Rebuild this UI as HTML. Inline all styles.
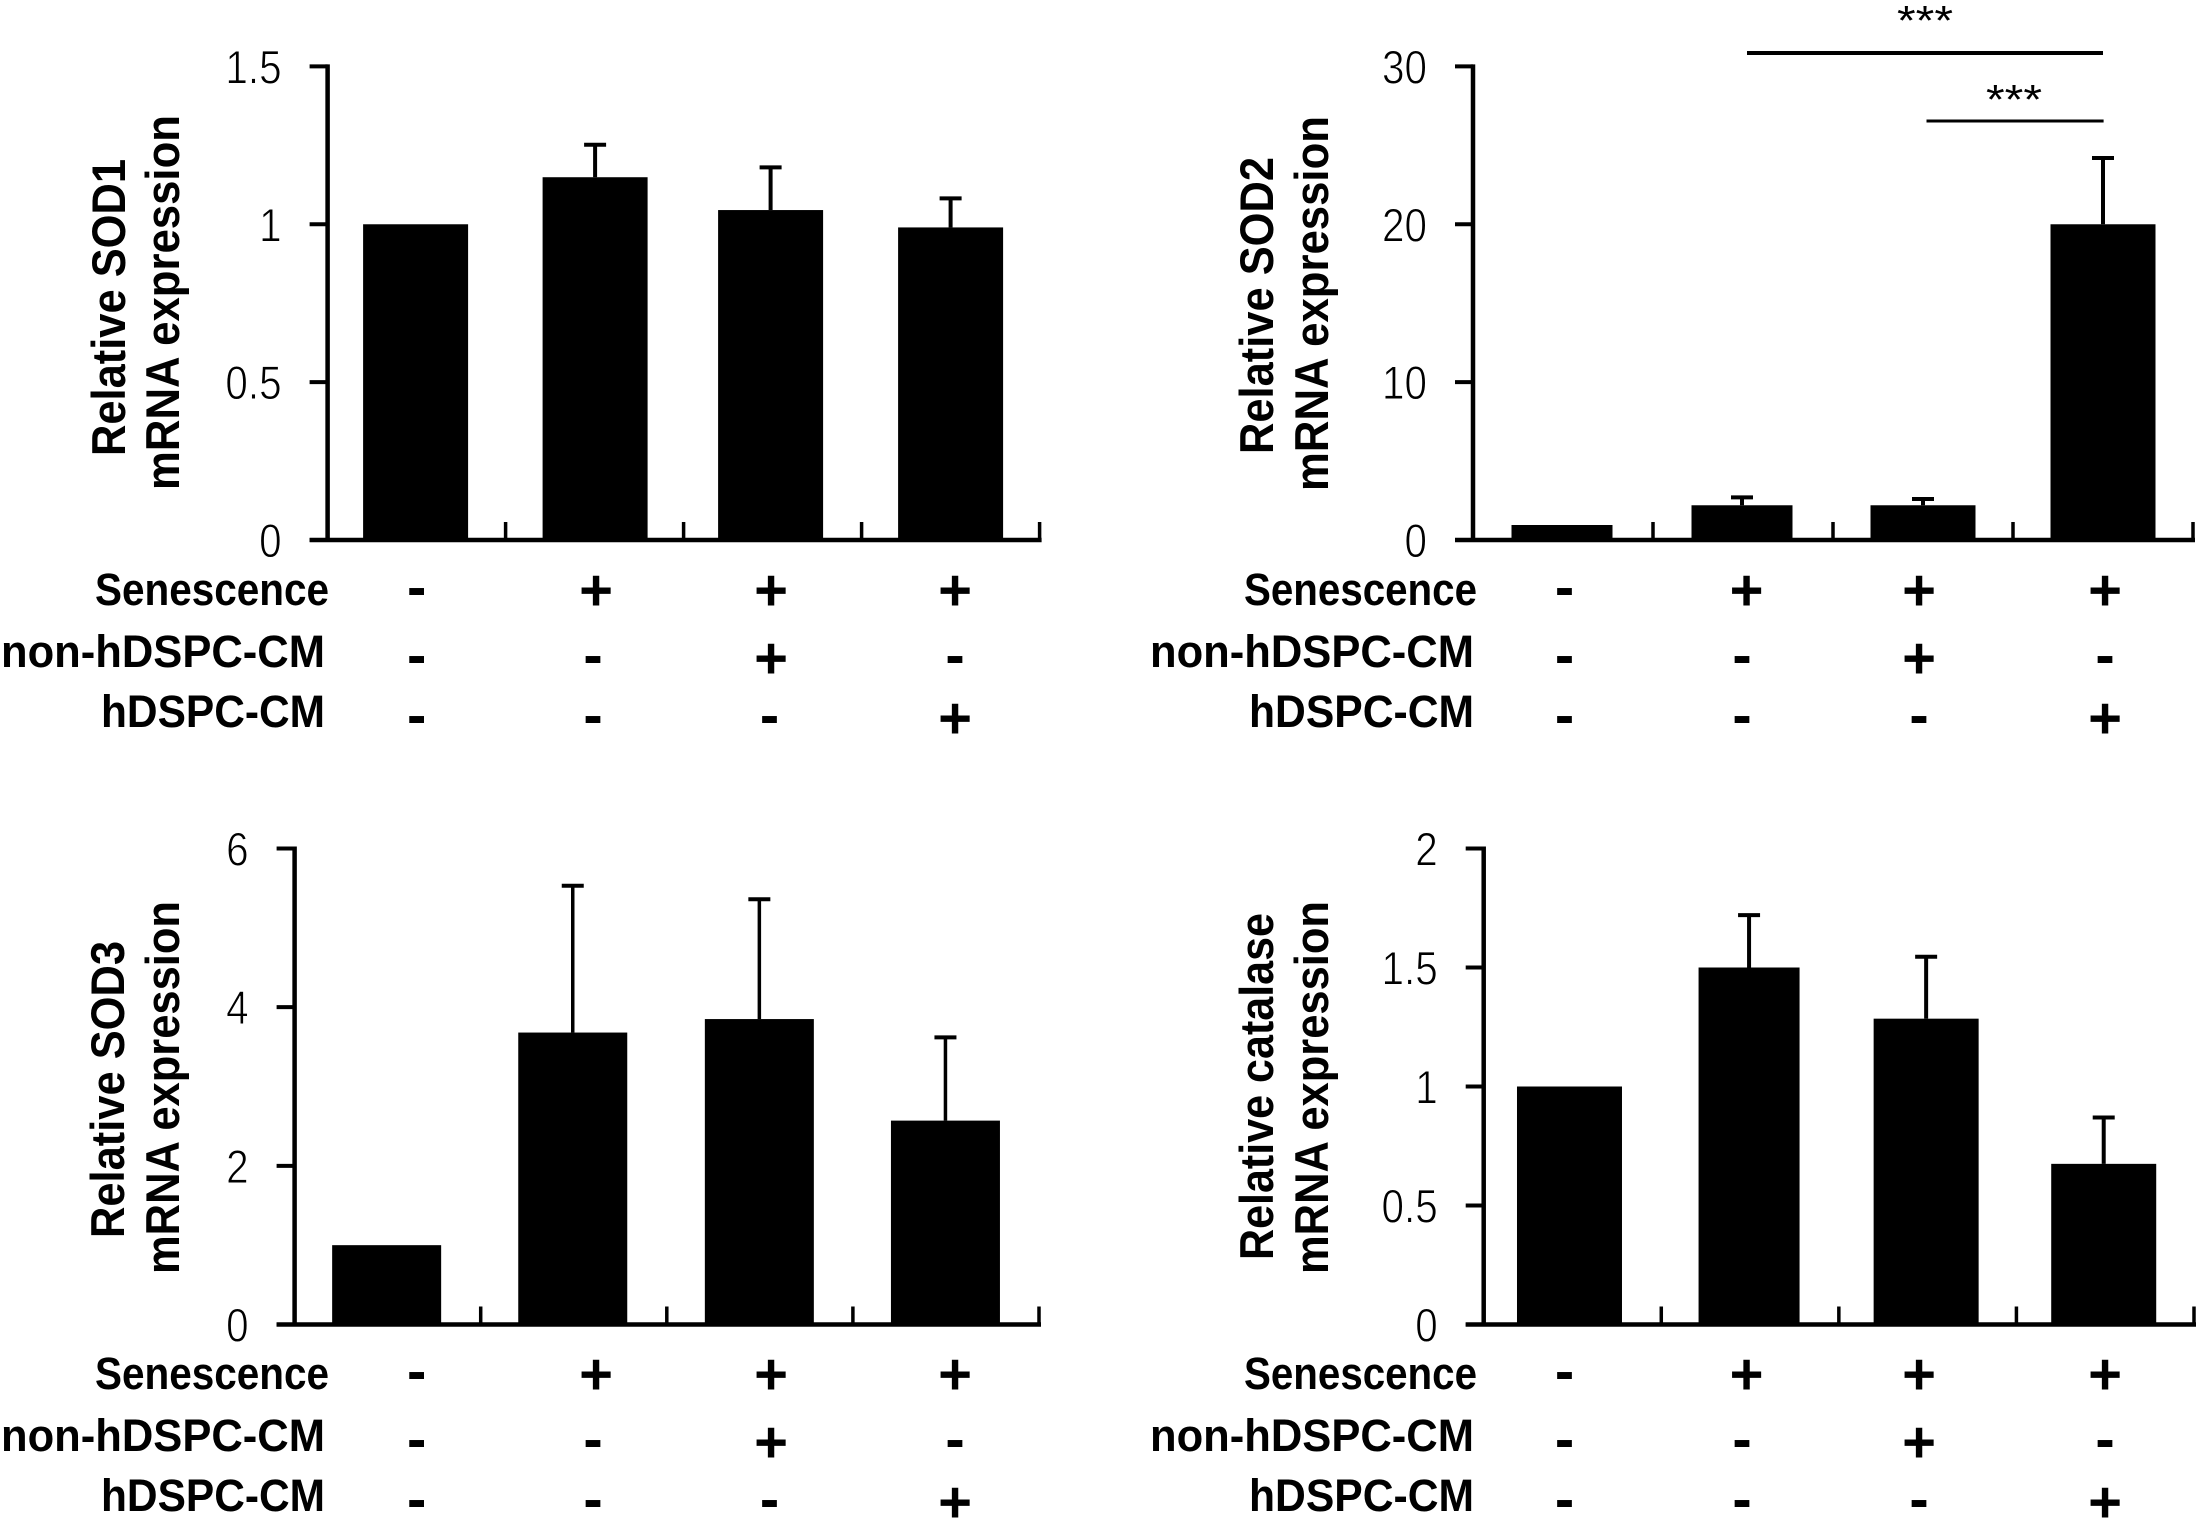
<!DOCTYPE html>
<html lang="en">
<head>
<meta charset="utf-8">
<title>Relative mRNA expression charts</title>
<style>
  html, body { margin: 0; padding: 0; background: #fff; }
  svg { display: block; }
  text { font-family: "Liberation Sans", "DejaVu Sans", sans-serif; fill: #000; }
  .title { font-size: 47px; font-weight: 700; }
  .row { font-size: 45px; font-weight: 700; }
  .stars { font-size: 42px; }
  .tick { font-size: 47px; stroke: #fff; stroke-width: 0.9px; }
  .mark { font-size: 58px; font-weight: 700; text-anchor: middle; }
</style>
</head>
<body>
<svg id="figure" xmlns="http://www.w3.org/2000/svg" width="2202" height="1526" viewBox="0 0 2202 1526">
  <rect x="0" y="0" width="2202" height="1526" fill="#fff"/>

  <g id="panel-sod1">
    <text class="title" transform="translate(125,456) rotate(-90)" textLength="297" lengthAdjust="spacingAndGlyphs">Relative SOD1</text>
    <text class="title" transform="translate(179,490) rotate(-90)" textLength="375" lengthAdjust="spacingAndGlyphs">mRNA  expression</text>
    <text class="row" x="95" y="605" textLength="234" lengthAdjust="spacingAndGlyphs">Senescence</text>
    <text class="row" x="1" y="667" textLength="324" lengthAdjust="spacingAndGlyphs">non-hDSPC-CM</text>
    <text class="row" x="101" y="727" textLength="224" lengthAdjust="spacingAndGlyphs">hDSPC-CM</text>
  </g>

  <g id="panel-sod2">
    <text class="title" transform="translate(1273,454) rotate(-90)" textLength="297" lengthAdjust="spacingAndGlyphs">Relative SOD2</text>
    <text class="title" transform="translate(1328,491) rotate(-90)" textLength="375" lengthAdjust="spacingAndGlyphs">mRNA  expression</text>
    <text class="row" x="1244" y="605" textLength="233" lengthAdjust="spacingAndGlyphs">Senescence</text>
    <text class="row" x="1150" y="667" textLength="324" lengthAdjust="spacingAndGlyphs">non-hDSPC-CM</text>
    <text class="row" x="1249" y="727" textLength="225" lengthAdjust="spacingAndGlyphs">hDSPC-CM</text>
    <line x1="1747" y1="53" x2="2103" y2="53" stroke="#000" stroke-width="4"/>
    <line x1="1926.5" y1="121" x2="2103.6" y2="121" stroke="#000" stroke-width="3"/>
    <text class="stars" x="1897" y="35" textLength="56" lengthAdjust="spacingAndGlyphs">***</text>
    <text class="stars" x="1986" y="114" textLength="56" lengthAdjust="spacingAndGlyphs">***</text>
  </g>

  <g id="panel-sod3">
    <text class="title" transform="translate(124,1238) rotate(-90)" textLength="297" lengthAdjust="spacingAndGlyphs">Relative SOD3</text>
    <text class="title" transform="translate(179,1274) rotate(-90)" textLength="373" lengthAdjust="spacingAndGlyphs">mRNA  expression</text>
    <text class="row" x="95" y="1389" textLength="234" lengthAdjust="spacingAndGlyphs">Senescence</text>
    <text class="row" x="1" y="1451" textLength="324" lengthAdjust="spacingAndGlyphs">non-hDSPC-CM</text>
    <text class="row" x="101" y="1511" textLength="224" lengthAdjust="spacingAndGlyphs">hDSPC-CM</text>
  </g>

  <g id="panel-catalase">
    <text class="title" transform="translate(1273,1260) rotate(-90)" textLength="347" lengthAdjust="spacingAndGlyphs">Relative catalase</text>
    <text class="title" transform="translate(1328,1274) rotate(-90)" textLength="373" lengthAdjust="spacingAndGlyphs">mRNA  expression</text>
    <text class="row" x="1244" y="1389" textLength="233" lengthAdjust="spacingAndGlyphs">Senescence</text>
    <text class="row" x="1150" y="1451" textLength="324" lengthAdjust="spacingAndGlyphs">non-hDSPC-CM</text>
    <text class="row" x="1249" y="1511" textLength="225" lengthAdjust="spacingAndGlyphs">hDSPC-CM</text>
  </g>
</svg>

<script>
// Data
const sod1Values = [1.0, 1.149, 1.045, 0.99];
const sod1Errors = [0, 0.103, 0.135, 0.092];
const sod1TickValues = [0, 0.5, 1, 1.5];
const sod1TickLabels = ["0", "0.5", "1", "1.5"];

const sod2Values = [0.95, 2.2, 2.2, 20];
const sod2Errors = [0, 0.5, 0.4, 4.2];
const sod2TickValues = [0, 10, 20, 30];
const sod2TickLabels = ["0", "10", "20", "30"];

const sod3Values = [1.0, 3.68, 3.85, 2.57];
const sod3Errors = [0, 1.85, 1.51, 1.05];
const sod3TickValues = [0, 2, 4, 6];
const sod3TickLabels = ["0", "2", "4", "6"];

const catalaseValues = [1.0, 1.5, 1.285, 0.675];
const catalaseErrors = [0, 0.22, 0.26, 0.195];
const catalaseTickValues = [0, 0.5, 1, 1.5, 2];
const catalaseTickLabels = ["0", "0.5", "1", "1.5", "2"];

// Treatment table shared by every panel
const senescenceRow = ["-", "+", "+", "+"];
const nonHdspcRow = ["-", "-", "+", "-"];
const hdspcRow = ["-", "-", "-", "+"];

const SVG_NS = "http://www.w3.org/2000/svg";

function makeLine(parent, x1, y1, x2, y2, width, name) {
  const el = document.createElementNS(SVG_NS, "line");
  el.setAttribute("x1", x1);
  el.setAttribute("y1", y1);
  el.setAttribute("x2", x2);
  el.setAttribute("y2", y2);
  el.setAttribute("stroke", "#000");
  el.setAttribute("stroke-width", width);
  
  
  parent.appendChild(el);
  return el;
}

function makeText(parent, cls, x, y, str, name) {
  const el = document.createElementNS(SVG_NS, "text");
  el.setAttribute("class", cls);
  el.setAttribute("x", x);
  el.setAttribute("y", y);
  el.textContent = str;
  
  
  parent.appendChild(el);
  return el;
}

function drawPanel(cfg) {
  const g = document.getElementById(cfg.id);
  const n = cfg.values.length;
  const yMax = cfg.tickValues[cfg.tickValues.length - 1];
  const xBand = i => cfg.x0 + (cfg.x1 - cfg.x0) * i / n;
  const xCenter = i => xBand(i + 0.5) + cfg.barShift[i];
  const yScale = v => cfg.yBottom - (cfg.yBottom - cfg.yTop) * v / yMax;

  // bars and error bars
  cfg.values.forEach((v, i) => {
    const cx = xCenter(i);
    const w = cfg.barWidths[i];
    const top = yScale(v);
    const err = cfg.errors[i];
    if (err > 0) {
      const errTop = yScale(v + err);
      makeLine(g, cx, top, cx, errTop, cfg.errWidth, cfg.prefix + "-error-bar-" + (i + 1));
      makeLine(g, cx - 11, errTop, cx + 11, errTop, 4, cfg.prefix + "-error-cap-" + (i + 1));
    }
    const bar = document.createElementNS(SVG_NS, "rect");
    bar.setAttribute("x", cx - w / 2);
    bar.setAttribute("y", top);
    bar.setAttribute("width", w);
    bar.setAttribute("height", cfg.yBottom - top);
    bar.setAttribute("fill", "#000");
    
    
    g.appendChild(bar);
  });

  // axes
  makeLine(g, cfg.x0, cfg.yTop - 2, cfg.x0, cfg.yBottom + 2, 4.5, cfg.prefix + "-y-axis");
  makeLine(g, cfg.x0 - 18, cfg.yBottom, cfg.x1 + 2, cfg.yBottom, 4.5, cfg.prefix + "-x-axis");

  // y ticks
  cfg.tickValues.forEach((v, i) => {
    const y = yScale(v);
    makeLine(g, cfg.x0 - 18, y, cfg.x0, y, 4, cfg.prefix + "-y-tick-" + cfg.tickLabels[i]);
    const label = makeText(g, "tick", 0, 0, cfg.tickLabels[i], cfg.prefix + "-y-tick-label-" + cfg.tickLabels[i]);
    label.setAttribute("text-anchor", "end");
    label.setAttribute("transform", "translate(" + (cfg.x0 - 46) + "," + (y + 17) + ") scale(0.86,1)");
  });

  // category ticks (between groups and at the right end)
  for (let i = 1; i <= n; i++) {
    makeLine(g, xBand(i), cfg.yBottom - 18, xBand(i), cfg.yBottom, 3.5, cfg.prefix + "-x-tick-" + i);
  }

  // treatment +/- table
  const rows = [senescenceRow, nonHdspcRow, hdspcRow];
  const rowNames = ["senescence", "non-hdspc-cm", "hdspc-cm"];
  rows.forEach((row, r) => {
    row.forEach((sign, c) => {
      const isPlus = sign === "+";
      const baseline = cfg.rowY[r] + (isPlus ? 19 : 15.5);
      const mx = isPlus ? cfg.plusX[c] : cfg.minusX[c];
      makeText(g, "mark", mx, baseline, sign, cfg.prefix + "-" + rowNames[r] + "-sign-" + (c + 1));
    });
  });
}

const rowsTop = [591, 659, 719];
const rowsBottom = [1375, 1443, 1503];
const plusLeft = [416.7, 596, 771, 955];
const minusLeft = [416.7, 593, 769.5, 955];
const plusRight = [1564.6, 1746.6, 1919, 2105];
const minusRight = [1564.6, 1742, 1919, 2105];

drawPanel({ id: "panel-sod1", prefix: "sod1", values: sod1Values, errors: sod1Errors,
  tickValues: sod1TickValues, tickLabels: sod1TickLabels,
  x0: 327.6, x1: 1039.6, yTop: 66.4, yBottom: 540,
  barWidths: [105, 105, 105, 105], barShift: [-1, 0.5, -2, 0], errWidth: 4,
  rowY: rowsTop, plusX: plusLeft, minusX: minusLeft });

drawPanel({ id: "panel-sod2", prefix: "sod2", values: sod2Values, errors: sod2Errors,
  tickValues: sod2TickValues, tickLabels: sod2TickLabels,
  x0: 1473, x1: 2193, yTop: 66.4, yBottom: 540,
  barWidths: [101, 101, 105, 105], barShift: [-1, -1, 0, 0], errWidth: 4,
  rowY: rowsTop, plusX: plusRight, minusX: minusRight });

drawPanel({ id: "panel-sod3", prefix: "sod3", values: sod3Values, errors: sod3Errors,
  tickValues: sod3TickValues, tickLabels: sod3TickLabels,
  x0: 294.6, x1: 1039, yTop: 848.5, yBottom: 1324.5,
  barWidths: [109, 109, 109, 109], barShift: [-1, -1, -0.5, -0.5], errWidth: 3.5,
  rowY: rowsBottom, plusX: plusLeft, minusX: minusLeft });

drawPanel({ id: "panel-catalase", prefix: "catalase", values: catalaseValues, errors: catalaseErrors,
  tickValues: catalaseTickValues, tickLabels: catalaseTickLabels,
  x0: 1483.7, x1: 2194, yTop: 848.5, yBottom: 1324.5,
  barWidths: [105, 101, 105, 105], barShift: [-3, -1, -1.5, -1.5], errWidth: 4,
  rowY: rowsBottom, plusX: plusRight, minusX: minusRight });
</script>
</body>
</html>
